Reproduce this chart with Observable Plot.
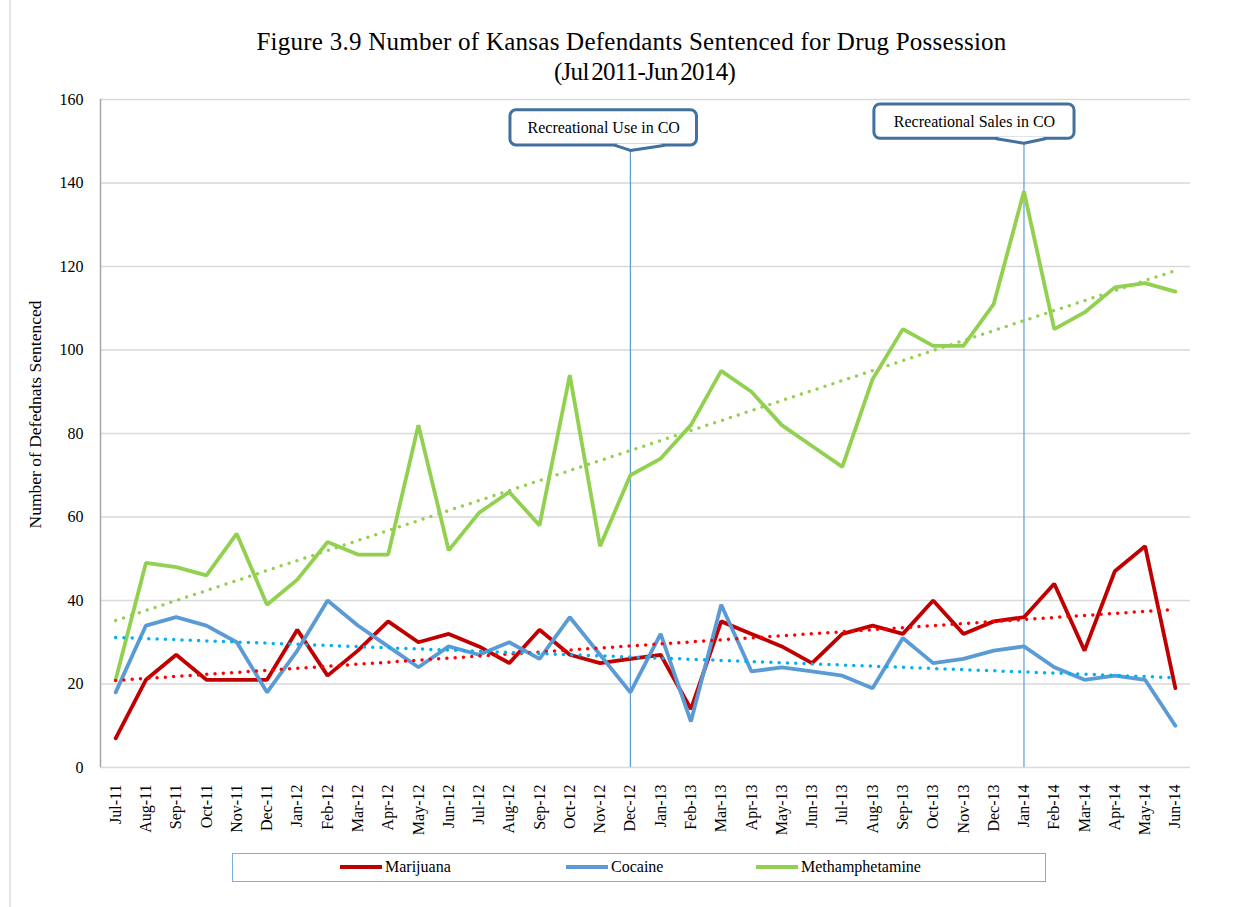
<!DOCTYPE html>
<html>
<head>
<meta charset="utf-8">
<script src="https://cdn.jsdelivr.net/npm/d3@7"></script>
<script src="https://cdn.jsdelivr.net/npm/@observablehq/plot@0.6"></script>
<style>
  html, body { margin: 0; padding: 0; background: #fff; }
  #wrap { position: relative; width: 1241px; height: 907px; font-family: "Liberation Serif", "Times New Roman", serif; color: #000; }
  #border { position: absolute; left: 9px; top: 0; width: 2px; height: 907px; background: #E3E3E3; }
  .tl { position: absolute; left: 0; width: 1241px; text-align: center; font-size: 25px; line-height: 30px; white-space: nowrap; }
  #t1 { top: 27px; left: 11px; letter-spacing: 0.25px; }
  #t2 { top: 57px; left: 24px; letter-spacing: -0.7px; word-spacing: -3px; }
  #chart { position: absolute; left: 0; top: 88px; }
  #legend { position: absolute; left: 232px; top: 853px; width: 812px; height: 27px; border: 1.5px solid #7FAEDD; }
  .item { position: absolute; top: 4px; font-size: 16px; line-height: 18px; white-space: nowrap; }
  .sw { display: inline-block; width: 42px; height: 4px; vertical-align: middle; margin-right: 3px; position: relative; top: -1px; }
</style>
</head>
<body>
<div id="wrap">
  <div id="border"></div>
  <div class="tl" id="t1">Figure 3.9 Number of Kansas Defendants Sentenced for Drug Possession</div>
  <div class="tl" id="t2">(Jul 2011-Jun 2014)</div>
  <div id="chart"></div>
  <div id="legend"></div>
</div>
<script>
const months = ["Jul-11","Aug-11","Sep-11","Oct-11","Nov-11","Dec-11","Jan-12","Feb-12","Mar-12","Apr-12","May-12","Jun-12",
  "Jul-12","Aug-12","Sep-12","Oct-12","Nov-12","Dec-12","Jan-13","Feb-13","Mar-13","Apr-13","May-13","Jun-13",
  "Jul-13","Aug-13","Sep-13","Oct-13","Nov-13","Dec-13","Jan-14","Feb-14","Mar-14","Apr-14","May-14","Jun-14"];
const marijuana = [7,21,27,21,21,21,33,22,28,35,30,32,29,25,33,27,25,26,27,14,35,32,29,25,32,34,32,40,32,35,36,44,28,47,53,19];
const cocaine   = [18,34,36,34,30,18,28,40,34,29,24,29,27,30,26,36,27,18,32,11,39,23,24,23,22,19,31,25,26,28,29,24,21,22,21,10];
const meth      = [21,49,48,46,56,39,45,54,51,51,82,52,61,66,58,94,53,70,74,82,95,90,82,77,72,93,105,101,101,111,138,105,109,115,116,114];
const seriesNames = ["Marijuana","Cocaine","Methamphetamine"];
const seriesValues = [marijuana, cocaine, meth];
const lineColors = ["#C00000","#5B9BD5","#92D050"];
const trendColors = ["#FF0000","#00B0F0","#92D050"];
const yTicks = [0,20,40,60,80,100,120,140,160];
const events = [
  {label: "Recreational Use in CO", month: "Dec-12", x1: 13.04, x2: 19.2, yTop: 157.4, yBot: 149.0, notchL: 16.6, notchR: 18.0, yTip: 147.8},
  {label: "Recreational Sales in CO", month: "Jan-14", x1: 25.06, x2: 31.67, yTop: 158.8, yBot: 150.6, notchL: 29.2, notchR: 30.6, yTip: 149.5}
];

const rows = [];
seriesNames.forEach((s, k) => seriesValues[k].forEach((v, i) => rows.push({series: s, i, month: months[i], value: v})));

const boxColor = "#41719C";
const marks = [
  Plot.gridY(yTicks, {stroke: "#D9D9D9", strokeOpacity: 1, strokeWidth: 1.5}),
  Plot.ruleX([-0.5], {y1: 0, y2: 160, stroke: "#A6A6A6", strokeWidth: 1.5}),
  Plot.axisY(yTicks, {tickSize: 0, tickPadding: 17, fontSize: 16, label: null}),
  Plot.axisX(d3.range(months.length), {tickFormat: i => months[i], tickRotate: -90, tickSize: 0, tickPadding: 17, fontSize: 16, label: null}),
  Plot.text(["Number of Defednats Sentenced"], {frameAnchor: "left", rotate: -90, textAnchor: "middle", dx: -65, dy: -19, fontSize: 17.5}),
  Plot.ruleX(events, {x: d => months.indexOf(d.month), y1: 0, y2: d => d.yTip, stroke: "#5B9BD5", strokeWidth: 1.2})
];
seriesNames.forEach((s, k) => {
  marks.push(Plot.line(rows.filter(r => r.series === s), {x: "i", y: "value", stroke: lineColors[k], strokeWidth: 3.8, strokeLinejoin: "miter"}));
});
seriesNames.forEach((s, k) => {
  marks.push(Plot.linearRegressionY(rows.filter(r => r.series === s), {x: "i", y: "value", stroke: trendColors[k], strokeWidth: 3.5, strokeDasharray: "0 8.3", strokeLinecap: "round", ci: 0}));
});
events.forEach(e => {
  const xi = months.indexOf(e.month);
  marks.push(Plot.rect([e], {x1: "x1", x2: "x2", y1: "yBot", y2: "yTop", fill: "white", stroke: boxColor, strokeWidth: 3, rx: 6}));
  marks.push(Plot.line([[e.notchL, e.yBot], [e.notchR, e.yBot]], {stroke: "white", strokeWidth: 4}));
  marks.push(Plot.line([[e.notchL - 0.1, e.yBot], [xi, e.yTip], [e.notchR + 0.1, e.yBot]], {stroke: boxColor, strokeWidth: 3, strokeLinejoin: "round"}));
  marks.push(Plot.text([e], {x: d => (d.x1 + d.x2) / 2, y: d => (d.yTop + d.yBot) / 2, text: "label", fontSize: 16}));
});

const chart = Plot.plot({
  width: 1241, height: 760,
  marginLeft: 100, marginRight: 51, marginTop: 11, marginBottom: 81,
  x: {type: "linear", domain: [-0.5, 35.5], axis: null},
  y: {domain: [0, 160], axis: null},
  style: {fontFamily: "Liberation Serif, Times New Roman, serif", fontSize: "16px", color: "#000", background: "transparent", overflow: "visible"},
  marks
});
document.getElementById("chart").appendChild(chart);

const legend = document.getElementById("legend");
const legendLeft = [107, 333, 523];
seriesNames.forEach((s, k) => {
  const d = document.createElement("div");
  d.className = "item";
  d.style.left = legendLeft[k] + "px";
  d.innerHTML = `<span class="sw" style="background:${lineColors[k]}"></span>${s}`;
  legend.appendChild(d);
});
</script>
</body>
</html>
